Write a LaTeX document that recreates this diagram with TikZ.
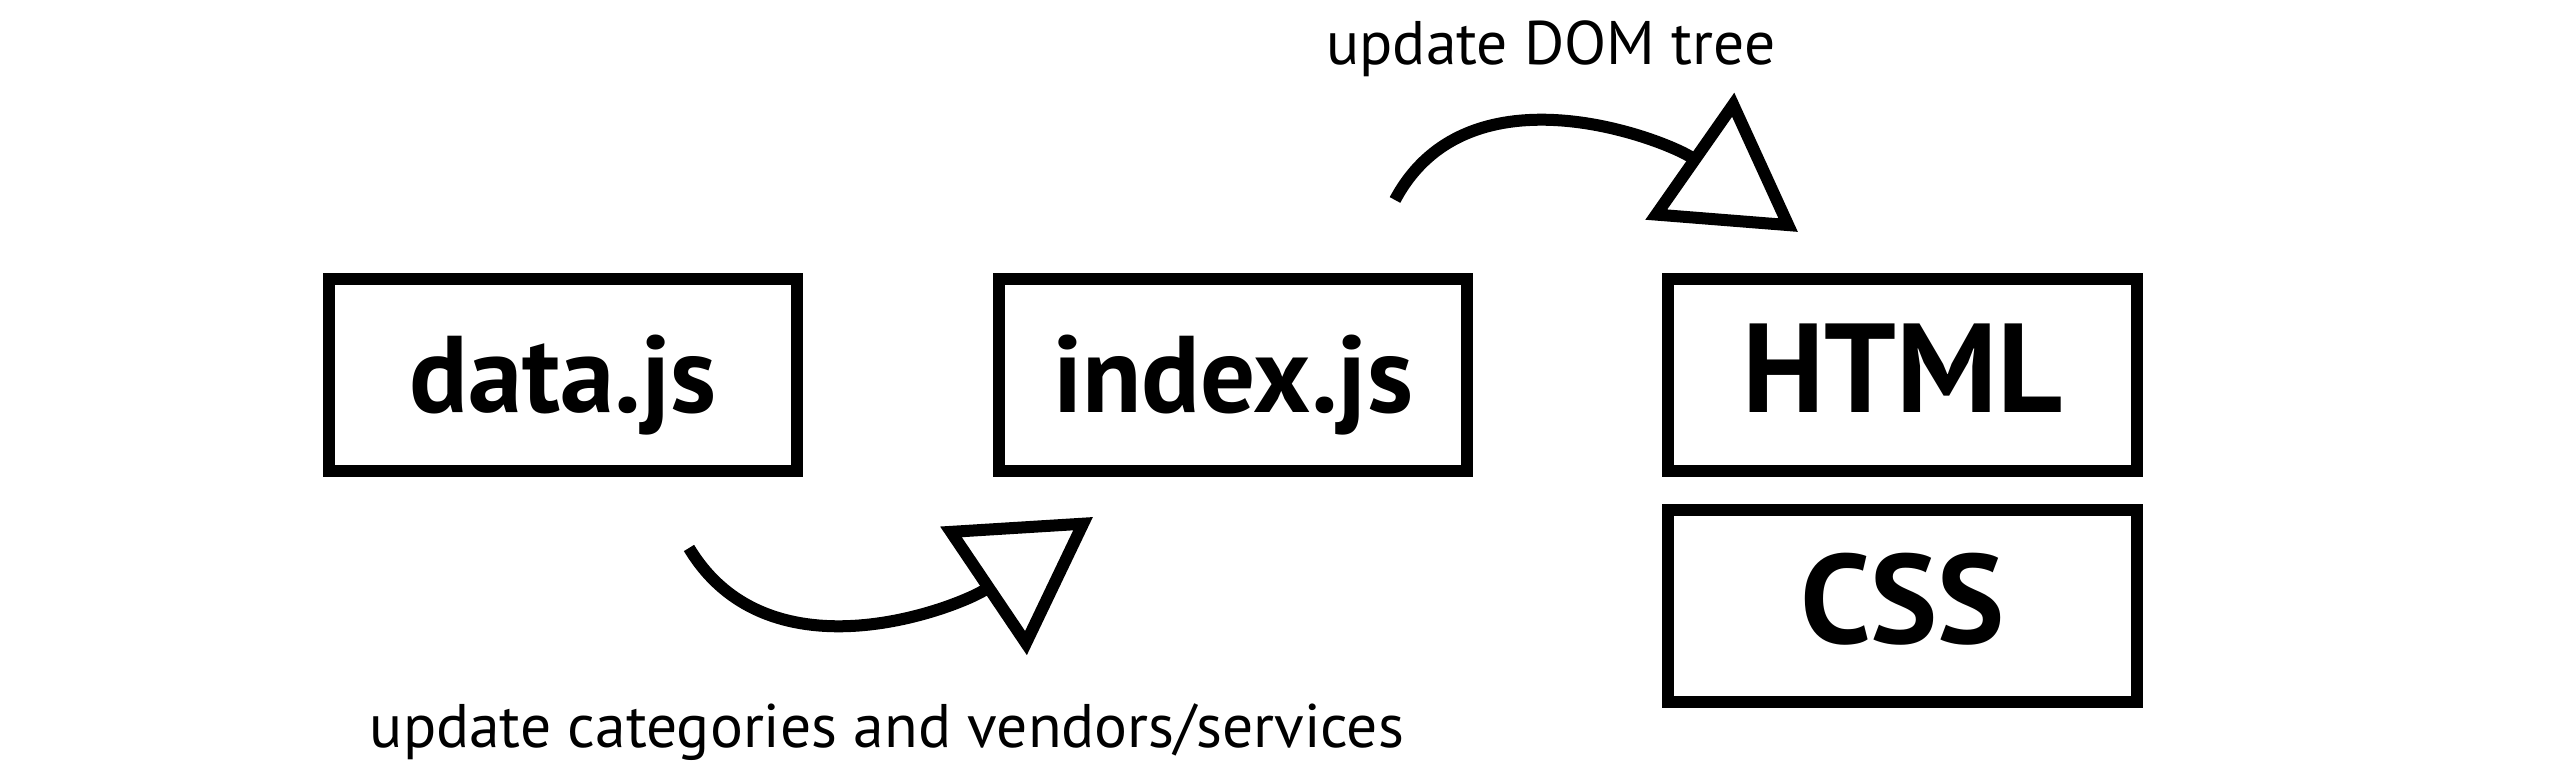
\documentclass[tikz,border=0pt]{standalone}
\usepackage{fontspec}
\setmainfont{PT Sans}
\usetikzlibrary{arrows.meta}
\tikzset{every picture/.style={x=.01cm,y=.01cm}}
\tikzset{file/.style={draw,line width=.12cm,minimum width=4.68cm,minimum height=1.92cm,inner sep=0pt,text height=.9cm,text depth=.15cm,font=\bfseries\fontsize{31}{37}\selectfont}}
\tikzset{big/.style={font=\bfseries\fontsize{36}{43}\selectfont}}
\tikzset{flow/.style={line width=.12cm,-{Triangle[open,length=1.32cm,width=1.52cm]}}}
\tikzset{note/.style={anchor=base,inner sep=0pt,font=\fontsize{17.5}{21}\selectfont}}

\begin{document}
\begin{tikzpicture}
\useasboundingbox (0,0) rectangle (2550,777);

\node [file] (data) at (563,402) {data.js};
\node [file] (index) at (1233,402) {index.js};
\node [file,big] (html) at (1902.5,402) {HTML};
\node [file,big] (css) at (1902.5,171) {CSS};

\coordinate (dom-from) at (1395,577);
\coordinate (dom-to) at (1798,545);
\coordinate (cat-from) at (689,229);
\coordinate (cat-to) at (1093,260);

\draw [flow] (dom-from) to[out=62,in=145] (dom-to);
\draw [flow] (cat-from) to[out=-59,in=214] (cat-to);

\node [note] (dom) at (1551,712) {update DOM tree};
\node [note] (cat) at (887,29) {update categories and vendors/services};
\end{tikzpicture}
\end{document}
